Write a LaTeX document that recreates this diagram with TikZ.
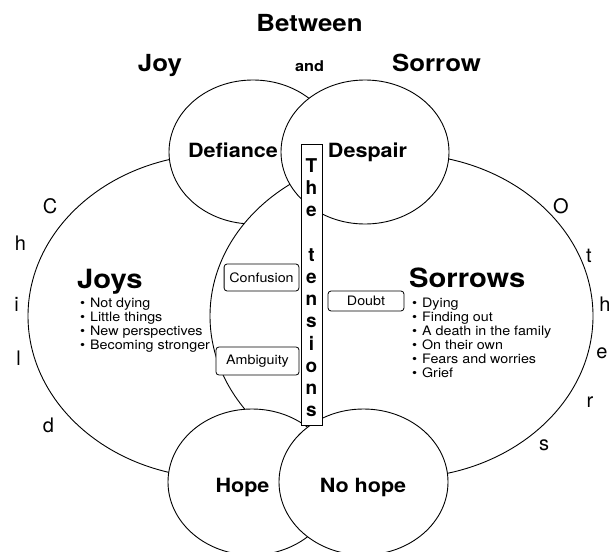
\documentclass[tikz,border=0pt]{standalone}
\usepackage{fontspec}
\setmainfont{TeX Gyre Heros}
\usetikzlibrary{shapes.geometric}
\newcommand{\fs}[1]{\fontsize{#1}{#1}\selectfont}
\newcommand{\blt}{\makebox[9pt][l]{•}}
\begin{document}
\begin{tikzpicture}[x=1pt,y=-1pt,
  setshape/.style={ellipse, draw, fill=white, line width=0.9pt, inner sep=0pt},
  lbl/.style={inner sep=0pt, anchor=base, xscale=1.1},
  headtxt/.style={lbl, font=\bfseries\fs{23.5}},
  circtxt/.style={lbl, font=\bfseries\fs{19.6}},
  bigtxt/.style={lbl, anchor=base west, font=\bfseries\fs{26.5}},
  itemtxt/.style={lbl, anchor=base west, font=\fs{13}},
  sidetxt/.style={inner sep=0pt, anchor=base, font=\fs{20}},
  striptxt/.style={inner sep=0pt, anchor=base, font=\bfseries\fs{19}},
  tbox/.style={draw, fill=white, rounded corners=3pt, line width=0.8pt, inner sep=0pt, font=\fs{13}, xscale=1.1}
]
\useasboundingbox[fill=white] (0,0) rectangle (612,551);

% sets, back to front
\node[setshape, minimum width=382pt, minimum height=324pt] (children) at (219,316) {};
\node[setshape, minimum width=168pt, minimum height=144pt] (defiance) at (253,152) {};
\node[setshape, minimum width=383pt, minimum height=324pt] (others) at (401.5,316) {};
\node[setshape, minimum width=168pt, minimum height=144pt] (despair) at (365,152) {};
\node[setshape, minimum width=168pt, minimum height=146pt] (hope) at (252,482) {};
\node[setshape, minimum width=169pt, minimum height=146pt] (nohope) at (363.5,482) {};

% small boxes
\node[tbox, minimum width=68pt, minimum height=27pt] (confusion) at (261.5,277.5) {Confusion};
\node[tbox, minimum width=69pt, minimum height=20pt] (doubt) at (366,301) {Doubt};
\node[tbox, minimum width=75.5pt, minimum height=28pt] (ambiguity) at (257.5,361) {Ambiguity};

% tension strip
\node[draw, fill=white, line width=0.9pt, inner sep=0pt, minimum width=21pt, minimum height=281pt] (strip) at (311.5,284.5) {};
\foreach \ch/\k [count=\n] in {T/0,h/1,e/2,t/4,e/5,n/6,s/7,i/8,o/9,n/10,s/11}
  \node[striptxt] (tl-\n) at (311.5,{172+22.27*\k}) {\ch};

% titles
\node[headtxt] (between) at (309.5,31.7) {Between};
\node[headtxt] (joy) at (160,71) {Joy};
\node[lbl, font=\bfseries\fs{14.8}] (and) at (309.5,71) {and};
\node[headtxt] (sorrow) at (436.5,71) {Sorrow};

% circle labels
\node[circtxt] (ldef) at (233,157) {Defiance};
\node[circtxt] (ldes) at (367.5,157) {Despair};
\node[circtxt] (lhope) at (242.5,492) {Hope};
\node[circtxt] (lnohope) at (363,492) {No hope};

% Joys and Sorrows
\node[bigtxt] (joys) at (77,288) {Joys};
\node[bigtxt] (sorrows) at (409,287) {Sorrows};
\foreach \t/\y [count=\n] in {Not dying/307,Little things/321,New perspectives/335,Becoming stronger/349}
  \node[itemtxt] (ji-\n) at (80,\y) {\blt\t};
\foreach \t/\y [count=\n] in {Dying/307,Finding out/321,A death in the family/335,On their own/349,Fears and worries/363,Grief/377}
  \node[itemtxt] (si-\n) at (412,\y) {\blt\t};

% side letters
\foreach \ch/\x/\y [count=\n] in {C/50/213,h/20.5/250,i/16.5/311,l/18.5/365,d/48.5/432}
  \node[sidetxt] (cl-\n) at (\x,\y) {\ch};
\foreach \ch/\x/\y [count=\n] in {O/561/213,t/589/262,h/605/311,e/602/358,r/590/407,s/544/450}
  \node[sidetxt] (ol-\n) at (\x,\y) {\ch};
\end{tikzpicture}
\end{document}
